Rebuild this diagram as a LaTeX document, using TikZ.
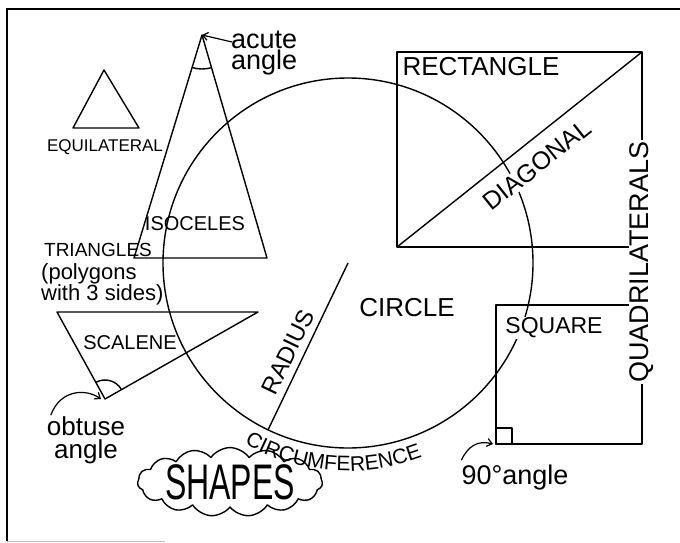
\documentclass[tikz,border=0pt]{standalone}
\usepackage{fontspec}
\usepackage{graphicx}
\setmainfont{Liberation Sans}
\usetikzlibrary{calc, shapes.symbols, decorations.text, arrows.meta}
\newcommand\circfont{\fontsize{21}{21}\selectfont}

\begin{document}
\begin{tikzpicture}[x=1pt, y=-1pt,
    pen/.style={line width=1.4pt, line join=round},
    lbl/.style={inner sep=1pt, font=\fontsize{#1}{#1}\selectfont},
    cover/.style={fill=white, inner sep=1pt},
    pointer/.style={line width=1.2pt, -{Straight Barb[length=5pt,width=8pt]}}]
    \useasboundingbox (0,0) rectangle (680,543);

    % page frame
    \draw[line width=1.5pt] (680,9) -- (7,9) -- (7,541);
    \draw[gray!50, line width=1pt] (7,541) -- (165,541);

    % corner points
    \coordinate (isoA) at (202,35);
    \coordinate (isoB) at (134,258);
    \coordinate (isoC) at (267,258);
    \coordinate (scaA) at (57,312);
    \coordinate (scaB) at (258,312);
    \coordinate (scaC) at (105,399);
    \coordinate (ctr) at (348,263);
    \coordinate (rim) at ($(ctr)+(115.6:185)$);
    \coordinate (recBL) at (397,247);
    \coordinate (recTR) at (642,52);
    \coordinate (sqBL) at (496,444);

    % shapes
    \draw[pen] (104,70) -- (73,128) -- (139,128) -- cycle;
    \draw[pen] (isoA) -- (isoB) -- (isoC) -- cycle;
    \draw[pen] (isoA) ++(107:34) arc[start angle=107, end angle=74, radius=34];
    \draw[pen] (scaA) -- (scaB) -- (scaC) -- cycle;
    \draw[pen] (scaC) ++(241:19) arc[start angle=241, end angle=330, radius=19];
    \draw[pen] (ctr) circle[radius=185];
    \draw[pen] (ctr) -- (rim);
    \draw[pen] (recBL) rectangle (recTR);
    \draw[pen] (sqBL) rectangle (642,305);
    \draw[pen] (sqBL) rectangle (512,428);

    % labels
    \node[lbl=17] (equi) at (105,147) {EQUILATERAL};
    \node[lbl=20] (isoc) at (195,224) {ISOCELES};
    \node[lbl=19] (tri) at (98,250) {TRIANGLES};
    \node[inner sep=1pt, align=left, anchor=north west, font=\fontsize{22}{21}\selectfont] (poly) at (40,262) {(polygons\\with 3 sides)};
    \node[lbl=20] (scal) at (130,343) {SCALENE};
    \node[inner sep=1pt, align=center, font=\fontsize{26}{23}\selectfont] (obt) at (86,440) {obtuse\\angle};
    \node[inner sep=1pt, align=left, anchor=north west, font=\fontsize{27}{21}\selectfont] (acute) at (230,30) {acute\\angle};
    \node[lbl=24, rotate=64.4] (rad) at (288,352) {RADIUS};
    \node[lbl=26] (circ) at (407,308) {CIRCLE};
    \node[lbl=26] (rect) at (481,67) {RECTANGLE};
    \node[lbl=25, cover, rotate=38.5] (diag) at (537,165) {DIAGONAL};
    \node[lbl=27, cover, rotate=90] (quad) at (642,262) {QUADRILATERALS};
    \node[lbl=23, cover] (sq) at (554,328) {SQUARE};
    \node[lbl=27] (ninety) at (515,478) {90°angle};
    \node[cloud, draw, pen, cloud puffs=15, cloud puff arc=110, cloud ignores aspect,
        minimum width=160pt, minimum height=68pt, inner sep=0pt] (shapes) at (230,482)
        {\fontsize{50}{50}\selectfont\scalebox{0.64}[1]{SHAPES}};
    \path[decorate, decoration={text along path, text align=center,
        text={|\circfont|CIRCUMFERENCE}}]
        (ctr) ++(129:208) arc[start angle=129, end angle=60, radius=208];

    \draw[pen] (recBL) -- (recTR);

    % pointers
    \draw[pointer] ([shift={(2,12)}]acute.north west) -- (isoA);
    \draw[pointer] ([shift={(5,0)}]obt.north west) .. controls (60,390) and (85,388) .. ([xshift=-4]scaC);
    \draw[pointer] ([shift={(1,-4)}]ninety.north west) .. controls (468,446) and (478,440) .. ([xshift=-3]sqBL);
\end{tikzpicture}
\end{document}
